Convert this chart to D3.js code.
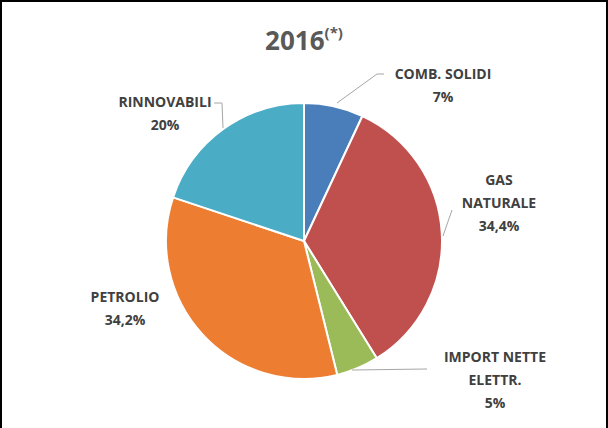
<!DOCTYPE html>
<html>
<head>
<meta charset="utf-8">
<script src="https://cdn.jsdelivr.net/npm/d3@7"></script>
<style>
  html, body { margin: 0; padding: 0; background: #fff; }
  svg { display: block; }
  text { font-family: "Open Sans", "Liberation Sans", sans-serif; font-weight: bold; }
</style>
</head>
<body>
<div id="chart"></div>
<script>
// slices, clockwise from 12 o'clock
const categories = ["COMB. SOLIDI", "GAS NATURALE", "IMPORT NETTE ELETTR.", "PETROLIO", "RINNOVABILI"];
const values = [7, 34.4, 5, 34.2, 20];
const valueLabels = ["7%", "34,4%", "5%", "34,2%", "20%"];
const labelLines = [["COMB. SOLIDI"], ["GAS", "NATURALE"], ["IMPORT NETTE", "ELETTR."], ["PETROLIO"], ["RINNOVABILI"]];
const colors = ["#4a7ebb", "#c0504d", "#9bbb59", "#ed7d31", "#4bacc6"];

const width = 608, height = 428;
const cx = 304, cy = 241, radius = 138;

// where each label block sits (centre x, first baseline) and its leader line
const labelPos = [
  { x: 443, y: 79 },
  { x: 499, y: 185 },
  { x: 495, y: 362 },
  { x: 125, y: 302 },
  { x: 165, y: 107 }
];
const leaders = [
  [[384, 74], [377, 74], [337, 103]],
  [[452, 210], [443, 236]],
  [[427, 369], [352, 370]],
  null,
  [[214, 103], [222, 103], [223, 128]]
];

const data = categories.map((c, i) => ({ name: c, value: values[i], i }));

const svg = d3.select("#chart").append("svg")
  .attr("width", width)
  .attr("height", height);

svg.append("rect").attr("width", width).attr("height", height).attr("fill", "#fff");

// frame
svg.append("path")
  .attr("d", `M1,${height} V1 H${width - 1} V${height}`)
  .attr("fill", "none")
  .attr("stroke", "#000")
  .attr("stroke-width", 2);

// title
const title = svg.append("text")
  .attr("x", 304)
  .attr("y", 50)
  .attr("text-anchor", "middle")
  .attr("fill", "#595959")
  .style("font-size", "26px");
title.append("tspan").text("2016");
title.append("tspan")
  .attr("dy", -12)
  .style("font-size", "15px")
  .text("(*)");

const pie = d3.pie().sort(null).value(d => d.value);
const arc = d3.arc().innerRadius(0).outerRadius(radius);

const g = svg.append("g").attr("transform", `translate(${cx},${cy})`);
g.selectAll("path.slice")
  .data(pie(data))
  .join("path")
  .attr("class", "slice")
  .attr("d", arc)
  .attr("fill", d => colors[d.data.i])
  .attr("stroke", "#fff")
  .attr("stroke-width", 2)
  .attr("stroke-linejoin", "round");

// leader lines
const line = d3.line();
svg.selectAll("path.leader")
  .data(leaders.filter(d => d))
  .join("path")
  .attr("class", "leader")
  .attr("d", line)
  .attr("fill", "none")
  .attr("stroke", "#a6a6a6")
  .attr("stroke-width", 1);

// labels
const lineH = 23;
data.forEach((d, i) => {
  const t = svg.append("text")
    .attr("text-anchor", "middle")
    .attr("fill", "#404040")
    .style("font-size", "14px");
  const lines = labelLines[i].concat([valueLabels[i]]);
  lines.forEach((s, k) => {
    t.append("tspan")
      .attr("x", labelPos[i].x)
      .attr("y", labelPos[i].y + k * lineH)
      .text(s);
  });
});
</script>
</body>
</html>
